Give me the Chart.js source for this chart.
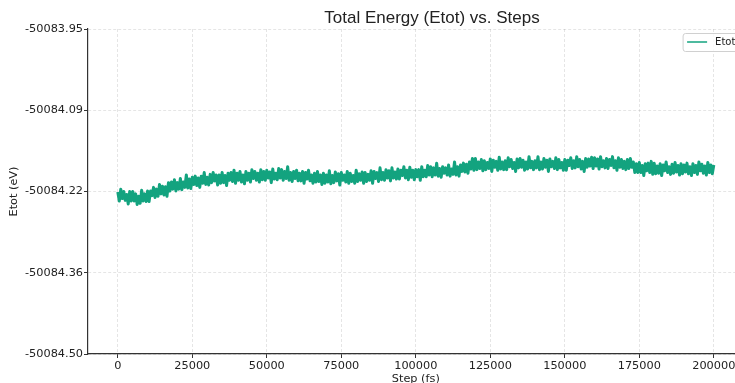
<!DOCTYPE html>
<html>
<head>
<meta charset="utf-8">
<script src="https://cdn.jsdelivr.net/npm/chart.js@4.4.0/dist/chart.umd.min.js"></script>
<style>
  html, body { margin: 0; padding: 0; background: #fff; overflow: hidden; }
  #wrap { width: 864px; height: 383px; }
</style>
</head>
<body>
<div id="wrap"><canvas id="energyChart" width="864" height="383"></canvas></div>
<script>
const stepInterval = 500;
const etot = [
  -50084.226, -50084.241, -50084.221, -50084.237, -50084.225, -50084.240, -50084.230, -50084.246, -50084.225, -50084.241,
  -50084.225, -50084.241, -50084.229, -50084.247, -50084.233, -50084.245, -50084.223, -50084.241, -50084.229, -50084.242,
  -50084.224, -50084.242, -50084.224, -50084.232, -50084.218, -50084.235, -50084.221, -50084.233, -50084.213, -50084.229,
  -50084.216, -50084.231, -50084.217, -50084.233, -50084.210, -50084.224, -50084.209, -50084.221, -50084.205, -50084.224,
  -50084.210, -50084.221, -50084.203, -50084.222, -50084.209, -50084.218, -50084.197, -50084.219, -50084.204, -50084.220,
  -50084.201, -50084.213, -50084.199, -50084.215, -50084.202, -50084.218, -50084.199, -50084.211, -50084.193, -50084.213,
  -50084.201, -50084.214, -50084.196, -50084.210, -50084.193, -50084.207, -50084.197, -50084.214, -50084.197, -50084.211,
  -50084.193, -50084.210, -50084.198, -50084.215, -50084.194, -50084.206, -50084.193, -50084.208, -50084.189, -50084.211,
  -50084.194, -50084.206, -50084.191, -50084.209, -50084.197, -50084.212, -50084.191, -50084.206, -50084.194, -50084.209,
  -50084.188, -50084.203, -50084.191, -50084.206, -50084.194, -50084.209, -50084.188, -50084.205, -50084.191, -50084.206,
  -50084.189, -50084.202, -50084.192, -50084.210, -50084.187, -50084.204, -50084.194, -50084.205, -50084.186, -50084.202,
  -50084.188, -50084.206, -50084.191, -50084.203, -50084.183, -50084.206, -50084.193, -50084.208, -50084.191, -50084.203,
  -50084.189, -50084.207, -50084.194, -50084.207, -50084.191, -50084.211, -50084.193, -50084.204, -50084.189, -50084.207,
  -50084.197, -50084.211, -50084.194, -50084.209, -50084.191, -50084.208, -50084.197, -50084.213, -50084.194, -50084.211,
  -50084.197, -50084.209, -50084.190, -50084.212, -50084.198, -50084.210, -50084.192, -50084.207, -50084.195, -50084.214,
  -50084.193, -50084.206, -50084.197, -50084.209, -50084.191, -50084.211, -50084.194, -50084.208, -50084.198, -50084.211,
  -50084.189, -50084.208, -50084.195, -50084.206, -50084.192, -50084.211, -50084.193, -50084.208, -50084.196, -50084.206,
  -50084.190, -50084.211, -50084.191, -50084.203, -50084.193, -50084.208, -50084.185, -50084.205, -50084.193, -50084.206,
  -50084.188, -50084.202, -50084.190, -50084.207, -50084.185, -50084.202, -50084.192, -50084.204, -50084.187, -50084.204,
  -50084.189, -50084.198, -50084.183, -50084.202, -50084.189, -50084.205, -50084.184, -50084.201, -50084.189, -50084.205,
  -50084.188, -50084.200, -50084.188, -50084.206, -50084.183, -50084.200, -50084.189, -50084.200, -50084.181, -50084.197,
  -50084.183, -50084.200, -50084.185, -50084.197, -50084.177, -50084.199, -50084.186, -50084.201, -50084.183, -50084.194,
  -50084.185, -50084.197, -50084.180, -50084.199, -50084.187, -50084.196, -50084.175, -50084.197, -50084.183, -50084.199,
  -50084.180, -50084.191, -50084.177, -50084.192, -50084.179, -50084.194, -50084.175, -50084.187, -50084.169, -50084.189,
  -50084.169, -50084.188, -50084.175, -50084.186, -50084.171, -50084.190, -50084.173, -50084.188, -50084.176, -50084.186,
  -50084.170, -50084.191, -50084.172, -50084.184, -50084.174, -50084.189, -50084.167, -50084.187, -50084.175, -50084.188,
  -50084.173, -50084.188, -50084.168, -50084.183, -50084.171, -50084.186, -50084.176, -50084.191, -50084.170, -50084.185,
  -50084.169, -50084.184, -50084.172, -50084.189, -50084.175, -50084.187, -50084.166, -50084.185, -50084.174, -50084.188,
  -50084.173, -50084.185, -50084.166, -50084.188, -50084.175, -50084.187, -50084.169, -50084.184, -50084.172, -50084.191,
  -50084.170, -50084.183, -50084.174, -50084.186, -50084.168, -50084.188, -50084.171, -50084.185, -50084.176, -50084.189,
  -50084.171, -50084.189, -50084.172, -50084.181, -50084.168, -50084.186, -50084.173, -50084.185, -50084.166, -50084.183,
  -50084.171, -50084.187, -50084.174, -50084.191, -50084.169, -50084.184, -50084.170, -50084.182, -50084.167, -50084.186,
  -50084.168, -50084.182, -50084.170, -50084.187, -50084.166, -50084.183, -50084.173, -50084.185, -50084.169, -50084.186,
  -50084.171, -50084.181, -50084.166, -50084.185, -50084.173, -50084.189, -50084.168, -50084.184, -50084.171, -50084.186,
  -50084.174, -50084.188, -50084.171, -50084.186, -50084.169, -50084.184, -50084.175, -50084.193, -50084.178, -50084.193,
  -50084.176, -50084.193, -50084.181, -50084.198, -50084.178, -50084.190, -50084.177, -50084.193, -50084.174, -50084.196,
  -50084.177, -50084.195, -50084.182, -50084.194, -50084.178, -50084.198, -50084.180, -50084.190, -50084.175, -50084.193,
  -50084.183, -50084.196, -50084.179, -50084.194, -50084.176, -50084.192, -50084.181, -50084.197, -50084.178, -50084.195,
  -50084.180, -50084.192, -50084.177, -50084.195, -50084.183, -50084.198, -50084.178, -50084.193, -50084.181, -50084.196,
  -50084.175, -50084.190, -50084.179, -50084.194, -50084.182, -50084.197, -50084.176, -50084.193, -50084.180, -50084.195,
  -50084.180
];
const steps = etot.map((_, i) => i * stepInterval);

// axis ticks
const xTickValues = [0, 25000, 50000, 75000, 100000, 125000, 150000, 175000, 200000];
const yTickValues = [-50084.5, -50084.3625, -50084.225, -50084.0875, -50083.95];
const yTickLabels = ['-50084.50', '-50084.36', '-50084.22', '-50084.09', '-50083.95'];

const lineColor = '#13a37f';
const tickFont = { family: 'DejaVu Sans', size: 11.3 };

// legend box drawn inside the plot, upper right like matplotlib
const legendBox = {
  id: 'legendBox',
  afterDatasetsDraw(chart) {
    const { ctx, chartArea } = chart;
    const label = chart.data.datasets[0].label;
    const x = chartArea.right - 60.5, y = chartArea.top + 4.5;
    const w = 56, h = 18;
    ctx.save();
    ctx.fillStyle = 'rgba(255,255,255,0.8)';
    ctx.strokeStyle = '#d0d0d0';
    ctx.lineWidth = 1;
    ctx.beginPath();
    ctx.roundRect(x, y, w, h, 2.5);
    ctx.fill();
    ctx.stroke();
    ctx.strokeStyle = lineColor;
    ctx.lineWidth = 1.5;
    ctx.beginPath();
    ctx.moveTo(x + 4, y + 8.5);
    ctx.lineTo(x + 24, y + 8.5);
    ctx.stroke();
    ctx.fillStyle = '#222';
    ctx.font = '10px "DejaVu Sans"';
    ctx.textBaseline = 'middle';
    ctx.fillText(label, x + 32, y + 9);
    ctx.restore();
  }
};

const gridOpts = {
  color: 'rgba(0,0,0,0.13)',
  lineWidth: 0.8,
  tickLength: 4,
  tickColor: '#333',
  tickWidth: 1
};

const ctx = document.getElementById('energyChart').getContext('2d');
new Chart(ctx, {
  type: 'line',
  data: {
    labels: steps,
    datasets: [{
      label: 'Etot',
      data: steps.map((s, i) => ({ x: s, y: etot[i] })),
      borderColor: lineColor,
      borderWidth: 3,
      borderJoinStyle: 'round',
      pointRadius: 0,
      tension: 0,
      fill: false
    }]
  },
  options: {
    responsive: false,
    animation: false,
    layout: { padding: 0 },
    plugins: {
      legend: { display: false },
      tooltip: { enabled: false },
      title: {
        display: true,
        text: 'Total Energy (Etot) vs. Steps',
        color: '#222',
        font: { family: 'Liberation Sans', size: 17, weight: 'normal' },
        padding: { top: 8, bottom: 0.6 }
      }
    },
    scales: {
      x: {
        type: 'linear',
        min: -10000,
        max: 210000,
        afterFit: s => { s.height = 29; },
        afterBuildTicks: s => { s.ticks = xTickValues.map(v => ({ value: v })); },
        ticks: {
          color: '#222',
          font: tickFont,
          padding: 1,
          maxRotation: 0,
          autoSkip: false,
          callback: v => String(v)
        },
        grid: gridOpts,
        border: { color: '#333', width: 1.2, dash: [3, 2] },
        title: {
          display: true,
          text: 'Step (fs)',
          color: '#222',
          font: tickFont,
          padding: { top: 0, bottom: -3 }
        }
      },
      y: {
        min: -50084.5,
        max: -50083.95,
        afterFit: s => { s.width = 88; },
        afterBuildTicks: s => { s.ticks = yTickValues.map(v => ({ value: v })); },
        ticks: {
          color: '#222',
          font: tickFont,
          padding: 1,
          callback: (v, i) => yTickLabels[i]
        },
        grid: gridOpts,
        border: { color: '#333', width: 1.2, dash: [3, 2] },
        title: {
          display: true,
          text: 'Etot (eV)',
          color: '#222',
          font: tickFont,
          padding: { top: 7, bottom: 0 }
        }
      },
      // empty strip on the right: the plot runs past the visible edge
      yPad: {
        type: 'linear',
        position: 'right',
        min: 0,
        max: 1,
        afterFit: s => { s.width = 120.4; },
        grid: { display: false },
        border: { display: false },
        ticks: { display: false }
      }
    }
  },
  plugins: [legendBox]
});
</script>
</body>
</html>
